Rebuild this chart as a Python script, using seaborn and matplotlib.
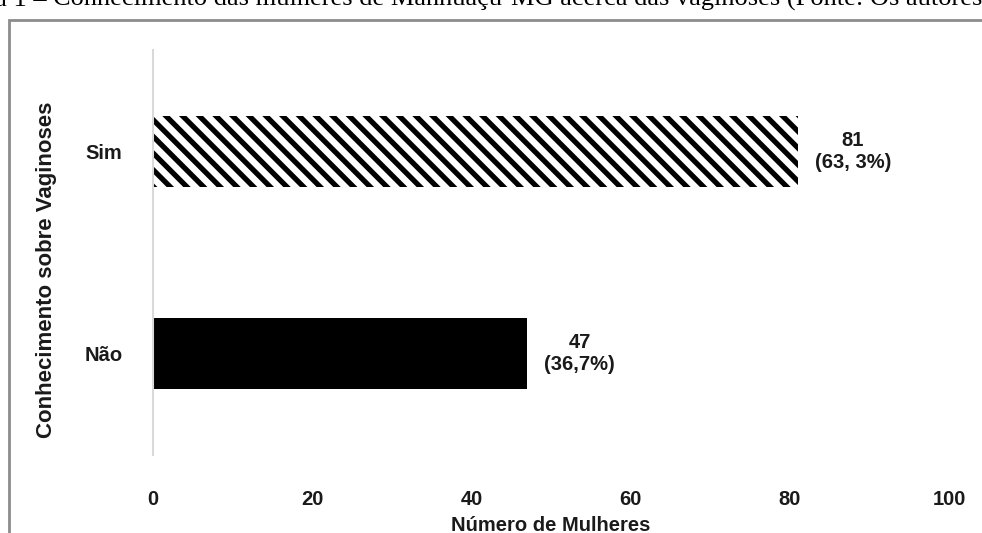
import matplotlib
matplotlib.use("Agg")
import matplotlib.pyplot as plt
import seaborn as sns
import pandas as pd
from matplotlib.patches import Rectangle

# dados
categorias = ["Sim", "Não"]
mulheres = [81, 47]
rotulos = ["81\n(63, 3%)", "47\n(36,7%)"]
eixo_x = [0, 20, 40, 60, 80, 100]

sns.set_theme(style="white")
plt.rcParams["font.family"] = ["Liberation Sans", "DejaVu Sans"]
plt.rcParams["hatch.linewidth"] = 3.8

df = pd.DataFrame({"Conhecimento": categorias, "Mulheres": mulheres})

fig = plt.figure(figsize=(9.82, 5.33), dpi=100)
ax = fig.add_axes([153 / 982, 1 - 455 / 533, 796 / 982, 405 / 533])

sns.barplot(data=df, x="Mulheres", y="Conhecimento", orient="h",
            order=categorias, width=0.35, ax=ax, color="black")

# Sim hachurado, Não preto
barras = ax.patches
barras[0].set_facecolor("white")
barras[0].set_edgecolor("black")
barras[0].set_linewidth(0)
barras[0].set_hatch("\\\\")
barras[1].set_facecolor("black")
barras[1].set_linewidth(0)

for barra, txt in zip(barras, rotulos):
    ax.annotate(txt, (barra.get_width(), barra.get_y() + barra.get_height() / 2),
                xytext=(17, 0), textcoords="offset pixels",
                ha="left", va="center", multialignment="center",
                fontsize=14.5, fontweight="bold", color="#1a1a1a")

ax.set_xlim(0, 100)
ax.set_ylim(1.5, -0.5)
ax.set_xticks(eixo_x)
ax.tick_params(axis="x", length=0, pad=25, labelsize=14.5, labelcolor="#1a1a1a")
ax.tick_params(axis="y", length=0, pad=22, labelsize=14.5, labelcolor="#1a1a1a")
for lab in ax.get_xticklabels() + ax.get_yticklabels():
    lab.set_fontweight("bold")

ax.set_xlabel("Número de Mulheres", fontsize=14.5, fontweight="bold",
              color="#1a1a1a", labelpad=5)
ax.set_ylabel("")
fig.text(47 / 982, 1 - 270 / 533, "Conhecimento sobre Vaginoses", rotation=90,
         ha="center", va="center", fontsize=16, fontweight="bold", color="#1a1a1a")

for s in ["top", "right", "bottom"]:
    ax.spines[s].set_visible(False)
ax.spines["left"].set_color("#d9d9d9")
ax.spines["left"].set_linewidth(1.5)

# moldura cinza e legenda cortada no topo
fig.patches.append(Rectangle((9 / 982, -0.1), 1.2, 1 - 20 / 533 + 0.1,
                             transform=fig.transFigure, fill=False,
                             edgecolor="#8c8c8c", linewidth=2.0))
fig.text(53 / 982, 1 - 6 / 533, "Figura 1 – ", ha="right", va="baseline",
         fontsize=19, family="Liberation Serif", color="black")
fig.text(53 / 982, 1 - 6 / 533,
         "Conhecimento das mulheres de Manhuaçu-MG acerca das vaginoses (Fonte: Os autores)",
         ha="left", va="baseline", fontsize=19, family="Liberation Serif", color="black")

fig.savefig("out.png", dpi=100)
